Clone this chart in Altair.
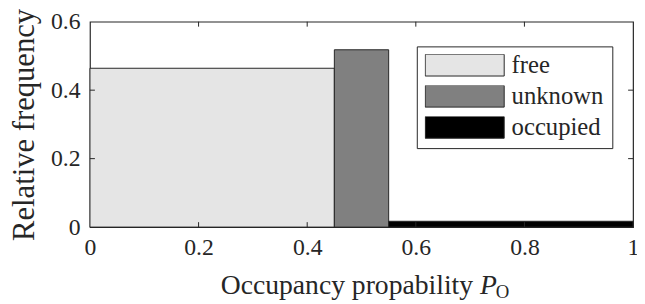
import altair as alt
import pandas as pd

# data
categories = ["free", "unknown", "occupied"]
bin_start = [0.0, 0.45, 0.55]
bin_end = [0.45, 0.55, 1.0]
rel_freq = [0.464, 0.518, 0.017]
colors = ["#e5e5e5", "#808080", "#000000"]
x_ticks = [0, 0.2, 0.4, 0.6, 0.8, 1.0]
y_ticks = [0, 0.2, 0.4, 0.6]
x_title = "Occupancy propability"
x_title_sym = "P"
x_title_sub = "O"
y_title = "Relative frequency"

W, H = 550, 208
FONT = "'Liberation Serif', 'Times New Roman', serif"
FS = 24
TXT = "#262626"

bars_df = pd.DataFrame({"cat": categories, "x0": bin_start, "x1": bin_end, "f": rel_freq})
xt_df = pd.DataFrame({"t": x_ticks[1:-1]})
yt_df = pd.DataFrame({"t": y_ticks[1:-1]})

xscale = alt.Scale(domain=[0, 1], nice=False, zero=False)
yscale = alt.Scale(domain=[0, 0.6], nice=False)

xaxis = alt.Axis(values=x_ticks, format=".1~f", labelFont=FONT, labelFontSize=FS, labelColor=TXT,
                 tickSize=0, domain=False, grid=False, title=None, labelPadding=9, labelFlush=False)
yaxis = alt.Axis(values=y_ticks, format=".1~f", labelFont=FONT, labelFontSize=FS, labelColor=TXT,
                 tickSize=0, domain=False, grid=False, title=y_title, titleFont=FONT,
                 titleFontSize=31, titleFontWeight="normal", titleColor=TXT, titlePadding=10,
                 labelPadding=10)

bars = alt.Chart(bars_df).mark_rect(stroke=TXT, strokeWidth=1, opacity=1).encode(
    x=alt.X("x0:Q", scale=xscale, axis=xaxis),
    x2="x1:Q",
    y=alt.Y("f:Q", scale=yscale, axis=yaxis),
    y2=alt.datum(0),
    fill=alt.Fill("cat:N", scale=alt.Scale(domain=categories, range=colors), sort=categories,
                  legend=alt.Legend(title=None, orient="none", legendX=331, legendY=25,
                                    symbolType="M-1,-0.275H1V0.275H-1Z", symbolSize=6400,
                                    symbolStrokeColor=TXT, symbolStrokeWidth=1, symbolOpacity=1,
                                    clipHeight=22, rowPadding=6.5, labelOffset=7,
                                    labelFont=FONT, labelFontSize=25, labelColor=TXT,
                                    strokeColor=TXT, fillColor="white", padding=8)),
)

tick_len = 5
bottom_ticks = alt.Chart(xt_df).mark_rule(color=TXT, strokeWidth=1).encode(
    x=alt.X("t:Q", scale=xscale), y=alt.value(H), y2=alt.value(H - tick_len))
top_ticks = alt.Chart(xt_df).mark_rule(color=TXT, strokeWidth=1).encode(
    x=alt.X("t:Q", scale=xscale), y=alt.value(0), y2=alt.value(tick_len))
left_ticks = alt.Chart(yt_df).mark_rule(color=TXT, strokeWidth=1).encode(
    y=alt.Y("t:Q", scale=yscale), x=alt.value(0), x2=alt.value(tick_len))
right_ticks = alt.Chart(yt_df).mark_rule(color=TXT, strokeWidth=1).encode(
    y=alt.Y("t:Q", scale=yscale), x=alt.value(W), x2=alt.value(W - tick_len))

title_df = pd.DataFrame({"a": [x_title], "p": [x_title_sym], "o": [x_title_sub]})
t1 = alt.Chart(title_df).mark_text(font=FONT, fontSize=28, color=TXT, align="right", baseline="alphabetic").encode(
    text="a:N", x=alt.value(388), y=alt.value(276))
t2 = alt.Chart(title_df).mark_text(font=FONT, fontSize=28, fontStyle="italic", color=TXT, align="left", baseline="alphabetic").encode(
    text="p:N", x=alt.value(395), y=alt.value(276))
t3 = alt.Chart(title_df).mark_text(font=FONT, fontSize=19, color=TXT, align="left", baseline="alphabetic").encode(
    text="o:N", x=alt.value(411), y=alt.value(280))

chart = alt.layer(bars, bottom_ticks, top_ticks, left_ticks, right_ticks, t1, t2, t3).properties(
    width=W, height=H,
    autosize=alt.AutoSizeParams(type="none"),
    padding={"left": 83, "top": 12, "right": 4, "bottom": 76},
    view=alt.ViewBackground(stroke=TXT, strokeWidth=1.2),
)

chart.save("out.html", embed_options={"renderer": "svg", "actions": False})
